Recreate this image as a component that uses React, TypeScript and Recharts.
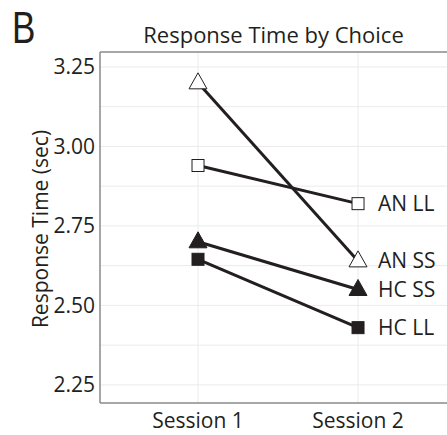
import React from "react";
import {
  LineChart, Line, XAxis, YAxis, CartesianGrid, ReferenceLine, LabelList,
} from "recharts";

const sessions = [1, 2];
const sessionLabels = ["Session 1", "Session 2"];
const anLL = [2.94, 2.82];
const anSS = [3.2, 2.64];
const hcSS = [2.7, 2.55];
const hcLL = [2.645, 2.43];
const yTicks = [2.25, 2.5, 2.75, 3.0, 3.25];
const yGrid = [2.25, 2.375, 2.5, 2.625, 2.75, 2.875, 3.0, 3.125, 3.25];

const data = sessions.map((s, i) => ({
  session: s,
  anLL: anLL[i],
  anSS: anSS[i],
  hcSS: hcSS[i],
  hcLL: hcLL[i],
}));

const ink = "#231f20";
const font = "'Open Sans', sans-serif";
const Y_MIN = 2.193;
const Y_MAX = 3.297;

function marker(kind: "square" | "triangle", filled: boolean) {
  return (props: any) => {
    const { cx, cy, index } = props;
    const fill = filled ? ink : "#ffffff";
    if (kind === "square") {
      return (
        <rect key={index} x={cx - 6} y={cy - 6} width={12} height={12}
          fill={fill} stroke={ink} strokeWidth={1} />
      );
    }
    return (
      <polygon key={index}
        points={`${cx},${cy - 10} ${cx - 9},${cy + 6} ${cx + 9},${cy + 6}`}
        fill={fill} stroke={ink} strokeWidth={1} />
    );
  };
}

function endLabel(text: string) {
  return (props: any) => {
    const { x, y, index } = props;
    if (index !== 1) return null;
    return (
      <text x={x + 20} y={y} dy="0.35em" fontSize={21} fill={ink} fontFamily={font}>
        {text}
      </text>
    );
  };
}

export default function App() {
  return (
    <div style={{ position: "absolute", left: 0, top: 0, width: 447, height: 435, background: "#fff", fontFamily: font, overflow: "hidden" }}>
      <div style={{
        position: "absolute", left: 12, top: 1.5, lineHeight: "normal", fontSize: 45, color: ink,
        fontFamily: "'Liberation Sans', sans-serif", transform: "scaleX(0.78)", transformOrigin: "left top",
      }}>B</div>
      <div style={{ position: "absolute", left: 100, width: 347, top: 19, fontSize: 22, color: ink, textAlign: "center", whiteSpace: "nowrap" }}>
        Response Time by Choice
      </div>
      <LineChart width={447} height={435} data={data} margin={{ top: 52, right: 0, bottom: 0, left: 0 }}>
        <CartesianGrid stroke="#ebebeb" strokeWidth={1}
          horizontalValues={yGrid} verticalValues={sessions} />
        <XAxis dataKey="session" type="number" domain={[0.3875, 2.556]} ticks={sessions}
          allowDataOverflow
          tickFormatter={(v: number) => sessionLabels[v - 1]}
          tick={{ fontSize: 21, fill: ink, fontFamily: font }}
          tickLine={false} tickSize={0} tickMargin={10}
          axisLine={{ stroke: "#8a8a8a", strokeWidth: 1.5 }} height={32} />
        <YAxis type="number" domain={[Y_MIN, Y_MAX]} ticks={yTicks} width={100}
          allowDataOverflow
          tickFormatter={(v: number) => v.toFixed(2)}
          tick={{ fontSize: 21, fill: ink, fontFamily: font }}
          tickLine={false} tickSize={0} tickMargin={5}
          axisLine={{ stroke: "#8a8a8a", strokeWidth: 1.5 }}
          label={{
            content: () => (
              <text x={41} y={229} transform="rotate(-90 41 229)" textAnchor="middle"
                dy="0.35em" fontSize={21} fill={ink} fontFamily={font}>
                Response Time (sec)
              </text>
            ),
          }} />
        <ReferenceLine y={Y_MAX} stroke="#8a8a8a" strokeWidth={1.5} />
        <Line dataKey="anLL" stroke={ink} strokeWidth={3} isAnimationActive={false}
          dot={marker("square", false)} activeDot={false}>
          <LabelList dataKey="anLL" content={endLabel("AN LL")} />
        </Line>
        <Line dataKey="anSS" stroke={ink} strokeWidth={3} isAnimationActive={false}
          dot={marker("triangle", false)} activeDot={false}>
          <LabelList dataKey="anSS" content={endLabel("AN SS")} />
        </Line>
        <Line dataKey="hcSS" stroke={ink} strokeWidth={3} isAnimationActive={false}
          dot={marker("triangle", true)} activeDot={false}>
          <LabelList dataKey="hcSS" content={endLabel("HC SS")} />
        </Line>
        <Line dataKey="hcLL" stroke={ink} strokeWidth={3} isAnimationActive={false}
          dot={marker("square", true)} activeDot={false}>
          <LabelList dataKey="hcLL" content={endLabel("HC LL")} />
        </Line>
      </LineChart>
    </div>
  );
}
